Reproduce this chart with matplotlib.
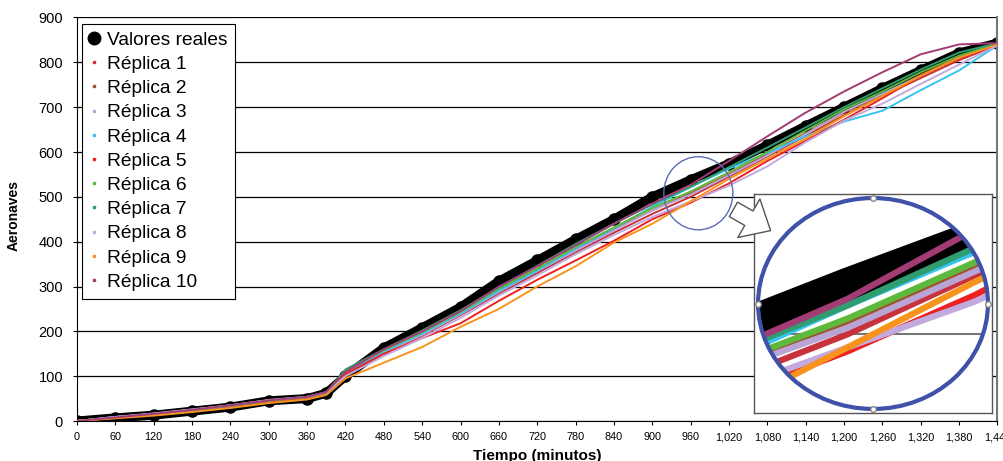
import matplotlib
matplotlib.use("Agg")
import matplotlib.pyplot as plt
from matplotlib.patches import Ellipse, FancyArrowPatch
from matplotlib.lines import Line2D
from matplotlib.ticker import FuncFormatter, MultipleLocator

plt.rcParams["font.family"] = ["Liberation Sans", "DejaVu Sans"]

# Tiempo (minutos) and series
minutos = [0, 60, 120, 180, 240, 300, 360, 390, 420, 480, 540, 600, 660, 720,
           780, 840, 900, 960, 1020, 1080, 1140, 1200, 1260, 1320, 1380, 1440]

reales = [0, 7, 13, 22, 31, 45, 50, 62, 100, 163, 208, 254, 312, 358,
          405, 450, 500, 538, 574, 615, 658, 700, 742, 782, 821, 843]

replica_1 = [0, 7, 15, 23, 33, 44, 52, 62, 104, 150, 190, 236, 284, 330,
             376, 420, 462, 500, 545, 590, 636, 682, 725, 765, 805, 838]
replica_2 = [0, 8, 14, 24, 34, 45, 53, 63, 108, 155, 195, 240, 290, 338,
             384, 428, 470, 508, 550, 595, 642, 688, 728, 772, 812, 840]
replica_3 = [0, 9, 16, 25, 35, 46, 53, 64, 108, 152, 192, 238, 288, 335,
             380, 425, 470, 505, 548, 592, 640, 690, 730, 770, 810, 840]
replica_4 = [0, 8, 15, 24, 33, 44, 52, 62, 105, 155, 195, 240, 290, 335,
             385, 430, 478, 522, 563, 598, 635, 668, 692, 738, 782, 838]
replica_5 = [0, 7, 14, 23, 32, 43, 51, 61, 105, 150, 185, 218, 268, 315,
             358, 402, 450, 487, 530, 580, 625, 672, 720, 770, 808, 840]
replica_6 = [0, 8, 16, 25, 34, 45, 53, 63, 112, 158, 198, 243, 295, 340,
             388, 432, 475, 512, 555, 600, 648, 695, 735, 778, 815, 842]
replica_7 = [0, 9, 15, 24, 34, 46, 54, 64, 115, 160, 202, 247, 298, 346,
             395, 440, 483, 522, 566, 610, 655, 700, 742, 784, 822, 843]
replica_8 = [0, 9, 17, 26, 35, 47, 54, 64, 100, 145, 185, 230, 280, 325,
             372, 415, 455, 490, 525, 568, 622, 670, 708, 752, 795, 838]
replica_9 = [0, 6, 12, 20, 29, 40, 48, 58, 95, 130, 165, 210, 250, 300,
             345, 398, 440, 490, 540, 585, 630, 680, 725, 770, 810, 840]
replica_10 = [0, 8, 16, 25, 35, 46, 54, 65, 110, 160, 200, 245, 300, 345,
              392, 440, 485, 527, 580, 635, 688, 735, 778, 818, 840, 843]

replicas = [replica_1, replica_2, replica_3, replica_4, replica_5,
            replica_6, replica_7, replica_8, replica_9, replica_10]
nombres = ["Réplica %d" % i for i in range(1, 11)]
colores = ["#c8323c", "#a0522d", "#b9a4d6", "#35c3ef", "#ee2020",
           "#5cb93c", "#2f9d70", "#c2aadf", "#f7941d", "#a33b74"]

fig = plt.figure(figsize=(10.04, 4.61), dpi=100)
ax = fig.add_axes([77 / 1004, 40 / 461, 920.5 / 1004, 403.5 / 461])

# Main chart
ax.plot(minutos, reales, color="black", lw=6.5, marker="o", ms=8,
        solid_capstyle="round", zorder=2)
for serie, color in zip(replicas, colores):
    ax.plot(minutos, serie, color=color, lw=1.4, zorder=3)

ax.set_xlim(0, 1440)
ax.set_ylim(0, 900)
ax.xaxis.set_major_locator(MultipleLocator(60))
ax.yaxis.set_major_locator(MultipleLocator(100))
ax.xaxis.set_major_formatter(FuncFormatter(lambda v, p: f"{int(v):,}"))
ax.tick_params(axis="x", length=3, pad=5, labelsize=7.8)
ax.tick_params(axis="y", length=3, pad=7, labelsize=10.5)
ax.grid(axis="y", color="black", lw=0.9)
ax.get_ygridlines()[-1].set_visible(False)
ax.set_axisbelow(True)
ax.spines["top"].set_visible(False)
ax.spines["right"].set_color("#777777")
ax.spines["right"].set_linewidth(1.5)

ax.set_xlabel("Tiempo (minutos)", fontsize=11, fontweight="bold")
ax.xaxis.set_label_coords(0.5, -0.069)
ax.set_ylabel("Aeronaves", fontsize=10, fontweight="bold")
ax.yaxis.set_label_coords(-0.061, 0.51)

# Legend
handles = [Line2D([], [], color="black", marker="o", ms=9, ls="none")]
for color in colores:
    handles.append(Line2D([], [], color=color, marker="s", ms=2, ls="none"))
leg = ax.legend(handles, ["Valores reales"] + nombres, loc="upper left",
                bbox_to_anchor=(0.005, 0.985), borderaxespad=0,
                fontsize=13.8, handlelength=0.5, handletextpad=0.4,
                labelspacing=0.355, borderpad=0.4, fancybox=False,
                framealpha=1)
leg.get_frame().set_edgecolor("black")
leg.get_frame().set_linewidth(0.8)

# Small circle marking the zoom region
ax.add_patch(Ellipse((972, 508), 108, 163, fill=False, ec="#5b6bb5",
                     lw=1.0, zorder=5))

# Inset with the zoomed region
ax_in = fig.add_axes([754 / 1004, 48 / 461, 238 / 1004, 219 / 461], zorder=5)
ax_in.set_xlim(916, 1028)
ax_in.set_ylim(440, 607)
ax_in.set_xticks([])
ax_in.set_yticks([])
for s in ax_in.spines.values():
    s.set_color("#555555")
    s.set_linewidth(1.0)

clip = Ellipse((0.5, 0.5), 0.966, 0.963, transform=ax_in.transAxes)
ax_in.add_patch(clip)
clip.set_visible(False)
grid_line = ax_in.plot([916, 1028], [500, 500], color="#777777", lw=1.5,
                       zorder=1)[0]
grid_line.set_clip_path(clip)
ln = ax_in.plot(minutos, reales, color="black", lw=24,
                solid_capstyle="round", zorder=2)[0]
ln.set_clip_path(clip)
for serie, color in zip(replicas, colores):
    ln = ax_in.plot(minutos, serie, color=color, lw=4.5, zorder=3)[0]
    ln.set_clip_path(clip)
ax_in.set_xlim(916, 1028)
ax_in.set_ylim(440, 607)

ax_in.add_patch(Ellipse((0.5, 0.5), 0.966, 0.963, transform=ax_in.transAxes,
                        fill=False, ec="#3f51a8", lw=3, zorder=4))
ax_in.plot([0.5, 0.5, 0.017, 0.983], [0.9815, 0.0185, 0.5, 0.5], ls="none",
           marker="o", ms=4, mfc="white", mec="#888888",
           transform=ax_in.transAxes, clip_on=False, zorder=6)

# Arrow pointing to the inset
arrow = FancyArrowPatch((731 / 1004, 253 / 461), (773 / 1004, 229 / 461),
                        transform=fig.transFigure,
                        arrowstyle="simple,head_length=0.9,head_width=1.6,tail_width=0.6",
                        mutation_scale=20, fc="white", ec="#555555", lw=1,
                        zorder=10)
fig.add_artist(arrow)

fig.savefig("out.png", dpi=100)
